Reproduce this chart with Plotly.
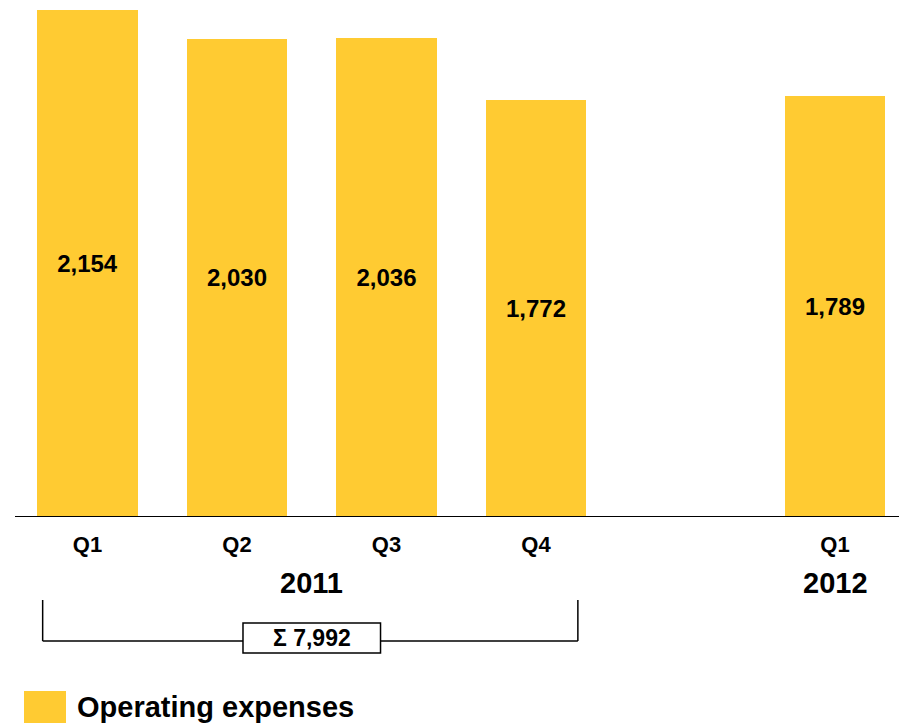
import plotly.graph_objects as go

# Quarterly operating expenses
quarters = ["Q1", "Q2", "Q3", "Q4", "Q1"]
positions = [0, 1, 2, 3, 5]          # gap before the 2012 quarter
values = [2154, 2030, 2036, 1772, 1789]
value_labels = ["2,154", "2,030", "2,036", "1,772", "1,789"]
years = ["2011", "2012"]
year_positions = [1.5, 5]
total_2011_label = "\u03a3 7,992"
series_name = "Operating expenses"

BAR = "#FFCB32"
FONT = "Liberation Sans, Arial, sans-serif"

W, H = 899, 723
ML, MR, MT, MB = 15, 0, 0, 207
plot_h = H - MT - MB


def py(pixel_y):
    """Convert a page pixel row to paper y."""
    return (H - MB - pixel_y) / plot_h


fig = go.Figure()
fig.add_trace(go.Bar(
    x=positions,
    y=values,
    width=0.67,
    marker=dict(color=BAR, line=dict(width=0)),
    text=value_labels,
    textposition="inside",
    insidetextanchor="middle",
    textangle=0,
    textfont=dict(family=FONT, size=24, color="black", weight="bold"),
    name=series_name,
    showlegend=False,
    hoverinfo="skip",
))

annotations = []
for yr, xp in zip(years, year_positions):
    annotations.append(dict(
        x=xp, y=py(583), xref="x", yref="paper", text=yr, showarrow=False,
        font=dict(family=FONT, size=29, color="black", weight="bold"),
        xanchor="center", yanchor="middle",
    ))

# Sum bracket under the 2011 quarters
bx0, bx1 = positions[0] - 0.30, positions[3] + 0.28
by_top, by_line = py(600), py(641)
shapes = [
    dict(type="line", xref="x", yref="paper", x0=bx0, x1=bx0, y0=by_top, y1=by_line,
         line=dict(color="black", width=1.5)),
    dict(type="line", xref="x", yref="paper", x0=bx1, x1=bx1, y0=by_top, y1=by_line,
         line=dict(color="black", width=1.5)),
    dict(type="line", xref="x", yref="paper", x0=bx0, x1=bx1, y0=by_line, y1=by_line,
         line=dict(color="black", width=1.5)),
]
box_cx = 1.5
shapes.append(dict(type="rect", xref="x", yref="paper",
                   x0=box_cx - 0.46, x1=box_cx + 0.46, y0=py(623), y1=py(653),
                   fillcolor="white", line=dict(color="black", width=1.5)))
annotations.append(dict(
    x=box_cx, y=py(638), xref="x", yref="paper", text=total_2011_label, showarrow=False,
    font=dict(family=FONT, size=23, color="black", weight="bold"),
    xanchor="center", yanchor="middle",
))

# Legend swatch and label
shapes.append(dict(type="rect", xref="paper", yref="paper",
                   x0=(24 - ML) / (W - ML - MR), x1=(66 - ML) / (W - ML - MR),
                   y0=py(691), y1=py(730),
                   fillcolor=BAR, line=dict(width=0), layer="above"))
annotations.append(dict(
    x=(75 - ML) / (W - ML - MR), y=py(707), xref="paper", yref="paper",
    text=series_name, showarrow=False,
    font=dict(family=FONT, size=29, color="black", weight="bold"),
    xanchor="left", yanchor="middle",
))

fig.update_layout(
    width=W, height=H,
    margin=dict(l=ML, r=MR, t=MT, b=MB),
    paper_bgcolor="white", plot_bgcolor="white",
    bargap=0,
    xaxis=dict(
        range=[-0.485, 5.428],
        tickvals=positions, ticktext=quarters,
        tickfont=dict(family=FONT, size=22, color="black", weight="bold"),
        ticks="", ticklabelstandoff=9,
        showline=True, linecolor="black", linewidth=1,
        showgrid=False, zeroline=False, fixedrange=True,
    ),
    yaxis=dict(
        range=[0, 2197], visible=False, showgrid=False, zeroline=False, fixedrange=True,
    ),
    shapes=shapes,
    annotations=annotations,
    showlegend=False,
    uniformtext=dict(minsize=24, mode="show"),
)

fig.write_html("out.html")
